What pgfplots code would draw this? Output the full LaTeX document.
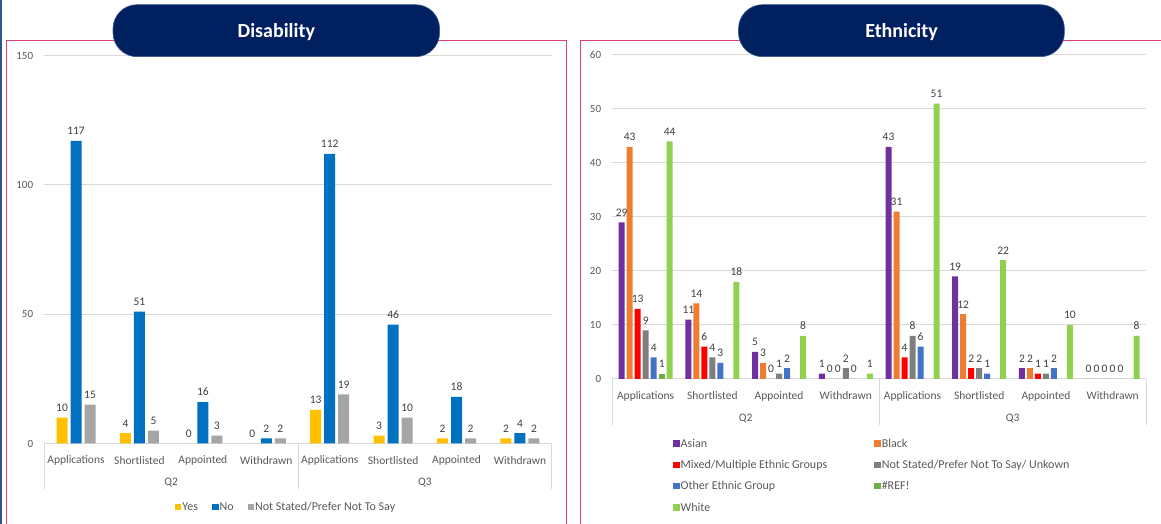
\documentclass[border=0pt]{standalone}
\usepackage{pgfplots}
\pgfplotsset{compat=1.18}
\usepackage{fontspec}
\setmainfont{Carlito}
\definecolor{navy}{HTML}{002060}
\definecolor{pillline}{HTML}{3A5A8C}
\definecolor{pinkf}{HTML}{DE4178}
\definecolor{edgeblue}{HTML}{2F5597}
\definecolor{gridg}{HTML}{D9D9D9}
\definecolor{txtg}{HTML}{595959}
\definecolor{lblg}{HTML}{404040}
\definecolor{cyes}{HTML}{FFC000}
\definecolor{cno}{HTML}{0070C0}
\definecolor{cns}{HTML}{A5A5A5}
\definecolor{casian}{HTML}{7030A0}
\definecolor{cblack}{HTML}{ED7D31}
\definecolor{cmixed}{HTML}{FF0000}
\definecolor{cnse}{HTML}{7F7F7F}
\definecolor{cother}{HTML}{4472C4}
\definecolor{cref}{HTML}{70AD47}
\definecolor{cwhite}{HTML}{92D050}

\pgfplotsset{
 panel/.style={
  scale only axis, anchor=south west, clip=false,
  xmin=-0.5, xmax=7.5, xtick={0,...,7},
  xticklabels={Applications,Shortlisted,Appointed,Withdrawn,Applications,Shortlisted,Appointed,Withdrawn},
  ymin=0, major tick length=0pt,
  axis x line=bottom, axis y line=left, axis line style={-},
  y axis line style={draw=none}, x axis line style={draw=gridg, line width=1pt},
  ymajorgrids, grid style={draw=gridg, line width=1pt},
  tick label style={font=\fontsize{11}{13}\selectfont, text=txtg, inner sep=0pt},
  /pgf/number format/assume math mode=true,
  xticklabel style={anchor=center, yshift=-17pt, font=\fontsize{11.5}{13}\selectfont},
  yticklabel style={anchor=east, xshift=-11pt},
  nodes near coords,
  every node near coord/.append style={font=\fontsize{11.5}{13}\selectfont, text=lblg, yshift=2.5pt},
  legend style={draw=none, fill=none, inner sep=0pt, font=\fontsize{12}{14}\selectfont, text=txtg, nodes={inner sep=1pt}},
  legend cell align=left,
 },
 sqlegend/.style={legend image code/.code={\fill[##1] (0pt,-3pt) rectangle (6.5pt,3.5pt);}},
}

\begin{document}
\begin{tikzpicture}[x=1pt,y=1pt]
\path[use as bounding box] (0,0) rectangle (1161,524);
\clip (0,0) rectangle (1161,524);

% frames
\fill[edgeblue] (0,0) rectangle (2.2,524);
\draw[pinkf, line width=1.5pt] (6.7,-10) rectangle (566.5,483.3);
\draw[pinkf, line width=1.5pt] (580.7,-10) rectangle (1180,483.3);

% ---------------- Disability ----------------
\begin{axis}[panel, at={(44.3pt,80.5pt)}, width=507.4pt, height=388pt,
  ymax=150, ytick={0,50,100,150},
  ybar=3pt, bar width=11pt, sqlegend,
  legend columns=3,
  legend style={at={(0.257,-0.1644)}, anchor=west,
    /tikz/every even column/.append style={column sep=13pt}}]
\addplot[fill=cyes, draw=none] coordinates {(0,10)(1,4)(2,0)(3,0)(4,13)(5,3)(6,2)(7,2)};
\addplot[fill=cno, draw=none] coordinates {(0,117)(1,51)(2,16)(3,2)(4,112)(5,46)(6,18)(7,4)};
\addplot[fill=cns, draw=none] coordinates {(0,15)(1,5)(2,3)(3,2)(4,19)(5,10)(6,2)(7,2)};
\legend{Yes,No,Not Stated/Prefer Not To Say}
\draw[gridg, line width=1pt] (axis cs:-0.5,0) -- ++(0pt,-45.8pt);
\draw[gridg, line width=1pt] (axis cs:3.5,0) -- ++(0pt,-45.8pt);
\draw[gridg, line width=1pt] (axis cs:7.5,0) -- ++(0pt,-45.8pt);
\node[font=\fontsize{11.5}{13}\selectfont, text=txtg, inner sep=0pt] at (axis cs:1.5,0) [yshift=-39.2pt] {Q2};
\node[font=\fontsize{11.5}{13}\selectfont, text=txtg, inner sep=0pt] at (axis cs:5.5,0) [yshift=-39.2pt] {Q3};
\end{axis}

% ---------------- Ethnicity ----------------
\begin{axis}[panel, at={(612.3pt,145pt)}, width=533.7pt, height=324pt,
  ymax=60, ytick={0,10,...,60},
  ybar=2pt, bar width=6pt, sqlegend,
  legend columns=2,
  legend style={at={(0.1137,-0.2988)}, anchor=west, row sep=9.5pt,
    /tikz/every even column/.append style={column sep=46pt}}]
\addplot[fill=casian, draw=none] coordinates {(0,29)(1,11)(2,5)(3,1)(4,43)(5,19)(6,2)(7,0)};
\addplot[fill=cblack, draw=none] coordinates {(0,43)(1,14)(2,3)(3,0)(4,31)(5,12)(6,2)(7,0)};
\addplot[fill=cmixed, draw=none] coordinates {(0,13)(1,6)(2,0)(3,0)(4,4)(5,2)(6,1)(7,0)};
\addplot[fill=cnse, draw=none] coordinates {(0,9)(1,4)(2,1)(3,2)(4,8)(5,2)(6,1)(7,0)};
\addplot[fill=cother, draw=none] coordinates {(0,4)(1,3)(2,2)(3,0)(4,6)(5,1)(6,2)(7,0)};
\addplot[fill=cref, draw=none] coordinates {(0,1)};
\addplot[fill=cwhite, draw=none] coordinates {(0,44)(1,18)(2,8)(3,1)(4,51)(5,22)(6,10)(7,8)};
\legend{Asian,Black,Mixed/Multiple Ethnic Groups,Not Stated/Prefer Not To Say/ Unkown,Other Ethnic Group,\#REF!,White}
\draw[gridg, line width=1pt] (axis cs:-0.5,0) -- ++(0pt,-46pt);
\draw[gridg, line width=1pt] (axis cs:3.5,0) -- ++(0pt,-46pt);
\draw[gridg, line width=1pt] (axis cs:7.5,0) -- ++(0pt,-46pt);
\node[font=\fontsize{11.5}{13}\selectfont, text=txtg, inner sep=0pt] at (axis cs:1.5,0) [yshift=-39.3pt] {Q2};
\node[font=\fontsize{11.5}{13}\selectfont, text=txtg, inner sep=0pt] at (axis cs:5.5,0) [yshift=-39.3pt] {Q3};
\end{axis}

% pills
\draw[fill=navy, draw=pillline, line width=0.6pt, rounded corners=24pt] (113,467.3) rectangle (439.6,519.3);
\node[anchor=base, text=white, font=\fontsize{20}{22}\selectfont\bfseries, inner sep=0pt] at (276.3,486.5) {Disability};
\draw[fill=navy, draw=pillline, line width=0.6pt, rounded corners=24pt] (738.5,467.3) rectangle (1064.4,519.3);
\node[anchor=base, text=white, font=\fontsize{20}{22}\selectfont\bfseries, inner sep=0pt] at (901.5,486.5) {Ethnicity};
\end{tikzpicture}
\end{document}
